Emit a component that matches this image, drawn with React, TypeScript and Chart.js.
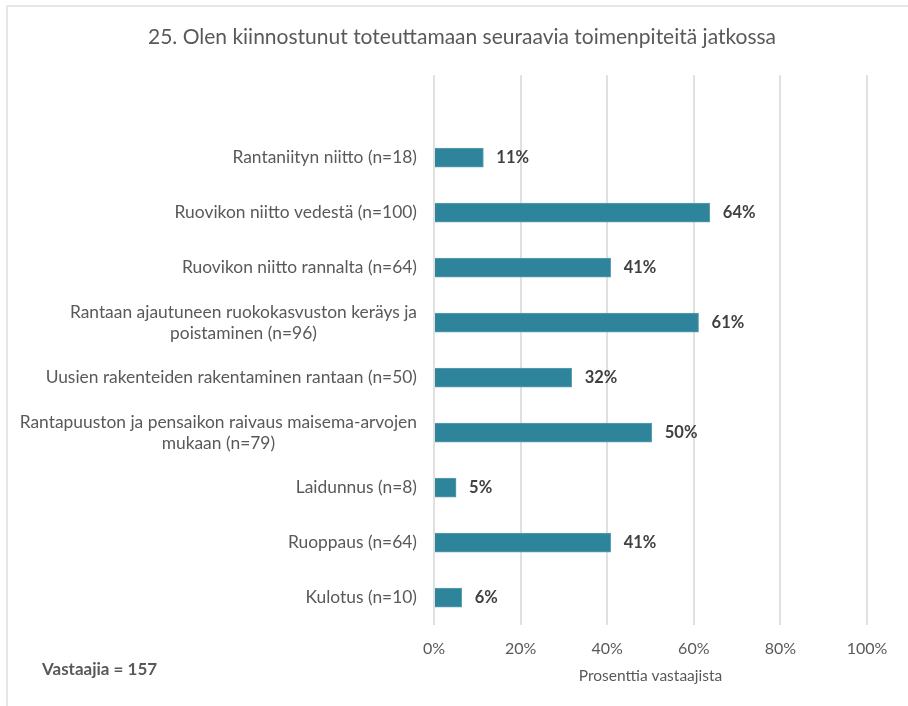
import React, { useEffect, useRef } from "react";
import { Chart, registerables } from "chart.js";

Chart.register(...registerables);

const TITLE = "25. Olen kiinnostunut toteuttamaan seuraavia toimenpiteitä jatkossa";
const CATEGORIES: string[][] = [
  ["Rantaniityn niitto (n=18)"],
  ["Ruovikon niitto vedestä (n=100)"],
  ["Ruovikon niitto rannalta (n=64)"],
  ["Rantaan ajautuneen ruokokasvuston keräys ja", "poistaminen (n=96)"],
  ["Uusien rakenteiden rakentaminen rantaan (n=50)"],
  ["Rantapuuston ja pensaikon raivaus maisema-arvojen", "mukaan (n=79)"],
  ["Laidunnus (n=8)"],
  ["Ruoppaus (n=64)"],
  ["Kulotus (n=10)"],
];
const VALUES: number[] = [11.4, 63.7, 40.8, 61.1, 31.8, 50.3, 5.1, 40.8, 6.4];
const X_TICKS: number[] = [0, 20, 40, 60, 80, 100];
const X_TITLE = "Prosenttia vastaajista";
const NOTE = "Vastaajia = 157";

const FONT = "Lato";
const TEXT = "#595959";

export default function App() {
  const ref = useRef<HTMLCanvasElement | null>(null);

  useEffect(() => {
    if (!ref.current) return;
    const labels = ["", ...CATEGORIES.map((c) => c.join(" "))];
    const data = [null, ...VALUES];

    const labelPlugin = {
      id: "customLabels",
      afterDraw(chart: any) {
        const ctx = chart.ctx;
        const ys = chart.scales.y;
        const right = chart.chartArea.left - 17;
        ctx.save();
        ctx.font = `17.4px ${FONT}`;
        ctx.fillStyle = TEXT;
        ctx.textBaseline = "middle";
        CATEGORIES.forEach((lines, i) => {
          const yc = ys.getPixelForValue(i + 1);
          if (lines.length === 1) {
            ctx.textAlign = "right";
            ctx.fillText(lines[0], right, yc);
          } else {
            const w = Math.max(...lines.map((l) => ctx.measureText(l).width));
            const cx = right - w / 2;
            const lh = 21;
            ctx.textAlign = "center";
            lines.forEach((l, j) => {
              ctx.fillText(l, cx, yc + (j - (lines.length - 1) / 2) * lh);
            });
          }
        });
        ctx.font = `bold 17px ${FONT}`;
        ctx.textAlign = "left";
        ctx.fillText(NOTE, 42, 670);
        ctx.restore();
      },
      afterDatasetsDraw(chart: any) {
        const ctx = chart.ctx;
        const meta = chart.getDatasetMeta(0);
        ctx.save();
        ctx.font = `bold 16.5px ${FONT}`;
        ctx.fillStyle = "#404040";
        ctx.textAlign = "left";
        ctx.textBaseline = "middle";
        meta.data.forEach((bar: any, i: number) => {
          const v = data[i];
          if (v === null || v === undefined) return;
          ctx.fillText(Math.round(v as number) + "%", bar.x + 13, bar.y);
        });
        ctx.restore();
      },
    };

    const chart = new Chart(ref.current, {
      type: "bar",
      data: {
        labels,
        datasets: [
          {
            data,
            backgroundColor: "#2E849B",
            borderColor: "#5E9FB3",
            borderWidth: 1,
            barThickness: 19,
          },
        ],
      },
      options: {
        indexAxis: "y",
        animation: false,
        responsive: false,
        maintainAspectRatio: false,
        layout: { padding: { left: 57, right: 41, top: 0, bottom: 21 } },
        plugins: {
          legend: { display: false },
          tooltip: { enabled: false },
          title: {
            display: true,
            text: TITLE,
            color: TEXT,
            font: { family: FONT, size: 21, weight: "normal" },
            padding: { top: 25, bottom: 25 },
          },
        },
        scales: {
          x: {
            min: 0,
            max: 100,
            afterBuildTicks: (scale: any) => {
              scale.ticks = X_TICKS.map((v) => ({ value: v }));
            },
            ticks: {
              callback: (v: any) => v + "%",
              color: TEXT,
              font: { family: FONT, size: 16 },
              padding: 14,
            },
            grid: { color: "#e0e0e0", lineWidth: 2, drawTicks: false },
            border: { display: false },
            title: {
              display: true,
              text: X_TITLE,
              color: TEXT,
              font: { family: FONT, size: 15.5 },
              padding: { top: -6, bottom: 0 },
            },
          },
          y: {
            ticks: { display: false },
            grid: { display: false, drawTicks: false },
            border: { display: false },
            afterFit: (scale: any) => {
              scale.width = 434 - 57;
            },
          },
        },
      },
      plugins: [labelPlugin],
    } as any);
    return () => chart.destroy();
  }, []);

  return (
    <div
      style={{
        position: "fixed",
        left: 0,
        top: 0,
        width: 908,
        height: 706,
        background: "#fff",
        overflow: "hidden",
      }}
    >
      <div
        style={{
          position: "absolute",
          left: 6,
          top: 5,
          width: 960,
          height: 760,
          borderTop: "2px solid #e6e6e6",
          borderLeft: "2px solid #e6e6e6",
          boxSizing: "border-box",
        }}
      />
      <canvas ref={ref} width={908} height={706} style={{ position: "absolute", left: 0, top: 0 }} />
    </div>
  );
}
